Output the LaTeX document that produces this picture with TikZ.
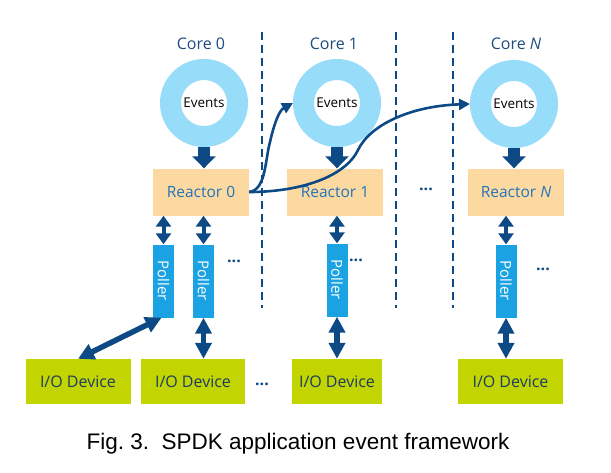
\documentclass[tikz,border=0pt]{standalone}
\usepackage{fontspec}
\setmainfont{Open Sans}
\newfontfamily\capfont{Liberation Sans}
\usetikzlibrary{arrows.meta, calc}

\definecolor{navy}{HTML}{0D4A85}
\definecolor{ringblue}{HTML}{97DCF8}
\definecolor{reactfill}{HTML}{FCD9A0}
\definecolor{reacttext}{HTML}{2473BA}
\definecolor{pollfill}{HTML}{1BA2E3}
\definecolor{devfill}{HTML}{C3D500}
\definecolor{devtext}{HTML}{1B3D66}
\definecolor{coretext}{HTML}{1D4C7E}

\tikzset{
  ring/.style={circle, draw=ringblue, fill=white, line width=21pt, minimum size=67pt, inner sep=0pt, font=\fontsize{13.5}{14}\selectfont},
  reactor/.style={fill=reactfill, text=reacttext, minimum width=96pt, minimum height=47pt, inner sep=0pt, font=\fontsize{15.5}{16}\selectfont},
  poller/.style={fill=pollfill, text=white, minimum width=73pt, minimum height=21pt, inner sep=0pt, rotate=-90, font=\fontsize{15}{15}\selectfont},
  device/.style={fill=devfill, text=devtext, minimum height=45pt, inner sep=0pt, font=\fontsize{16}{16}\selectfont},
  corelabel/.style={text=coretext, font=\fontsize{16}{16}\selectfont},
  dots/.style={text=navy, font=\bfseries\fontsize{16}{16}\selectfont},
  push/.style={navy, line width=12pt, -{Triangle[width=23pt,length=12pt]}},
  sync/.style={navy, line width=4pt, {Triangle[width=15pt,length=11pt]}-{Triangle[width=15pt,length=11pt]}},
  bus/.style={navy, line width=5.5pt, {Triangle[width=16pt,length=16pt]}-{Triangle[width=16pt,length=16pt]}},
  hop/.style={navy, line width=2.6pt, -{Triangle[width=11pt,length=11pt]}},
  split/.style={navy, line width=2.2pt, dash pattern=on 8pt off 5pt}
}

\begin{document}
\begin{tikzpicture}[x=1pt,y=-1pt]
  \useasboundingbox (0,0) rectangle (611,472);

  % Core boundaries
  \draw[split] (262,32) -- (262,308);
  \draw[split] (396,32) -- (396,308);
  \draw[split] (453,32) -- (453,308);

  % Cores and event rings
  \node[corelabel] (c0) at (201,44) {Core 0};
  \node[corelabel] (c1) at (334,44) {Core 1};
  \node[corelabel] (cN) at (516,44) {Core \textit{N}};
  \node[ring] (ev0) at (204,103) {Events};
  \node[ring] (ev1) at (337,103) {Events};
  \node[ring] (evN) at (514,104) {Events};

  % Reactors
  \node[reactor] (r0) at (201,192) {Reactor 0};
  \node[reactor] (r1) at (335,192) {Reactor 1};
  \node[reactor] (rN) at (516,192) {Reactor \textit{N}};
  \node[dots] (rdots) at (426,189) {...};

  % Pollers
  \node[poller] (p01) at (163.5,281) {Poller};
  \node[poller] (p02) at (203.5,281) {Poller};
  \node[poller] (p1) at (337,280) {Poller};
  \node[poller] (pN) at (506,281) {Poller};
  \node[dots] (pdots0) at (234,261) {...};
  \node[dots] (pdots1) at (356,260) {...};
  \node[dots] (pdotsN) at (543,269) {...};

  % I/O devices
  \node[device, minimum width=105pt] (d1) at (78,381.5) {I/O Device};
  \node[device, minimum width=104pt] (d2) at (193,381.5) {I/O Device};
  \node[device, minimum width=90pt] (d3) at (337,381.5) {I/O Device};
  \node[device, minimum width=105pt] (d4) at (510.5,381.5) {I/O Device};
  \node[dots] (ddots) at (262,384) {...};

  % Events into reactors
  \draw[push] (ev0.south) -- (ev0.south |- r0.north);
  \draw[push] (ev1.south) -- (ev1.south |- r1.north);
  \draw[push] (evN.south) -- (evN.south |- rN.north);

  % Reactor <-> poller
  \draw[sync] (p01.west |- r0.south) -- (p01.west);
  \draw[sync] (p02.west |- r0.south) -- (p02.west);
  \draw[sync] (p1.west |- r1.south) -- (p1.west);
  \draw[sync] (pN.west |- rN.south) -- (pN.west);

  % Poller <-> device
  \draw[bus] ($(p01.east)+(-2,0)$) -- (d1.north);
  \draw[bus] (p02.east) -- (p02.east |- d2.north);
  \draw[bus] (p1.east) -- (p1.east |- d3.north);
  \draw[bus] (pN.east) -- (pN.east |- d4.north);

  % Messages to other cores
  \draw[hop] (r0.east) .. controls (266,190) and (265,160) .. (270,142)
    .. controls (275,120) and (280,110) .. (ev1.west);
  \draw[hop] (r0.east) .. controls (300,192) and (345,177) .. (358,150)
    .. controls (370,125) and (410,106) .. (evN.west);

  % Caption
  \node[font=\capfont\fontsize{22.5}{23}\selectfont] (cap) at (298,444) {Fig.~3.\ \ SPDK application event framework};
\end{tikzpicture}
\end{document}
